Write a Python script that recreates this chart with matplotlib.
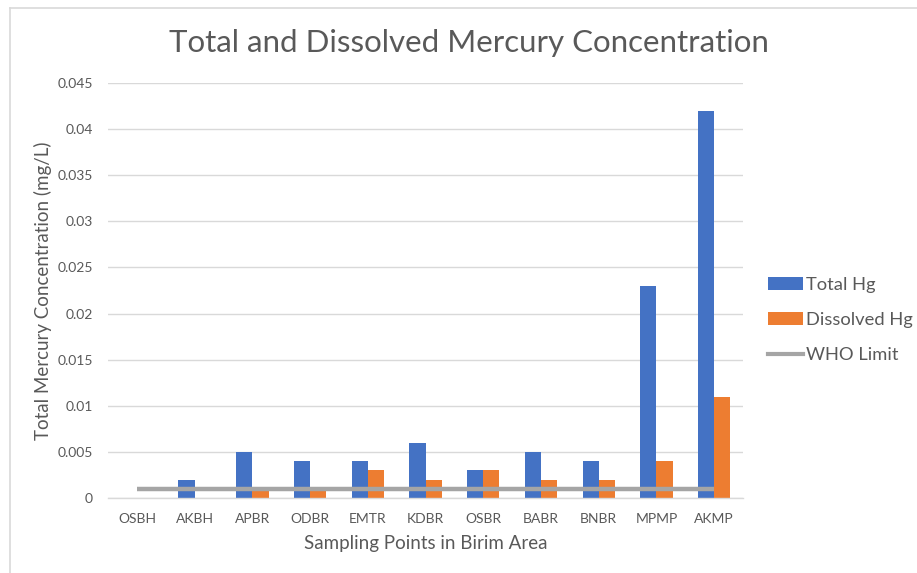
import matplotlib
matplotlib.use("Agg")
import matplotlib.pyplot as plt
from matplotlib.patches import Patch
from matplotlib.lines import Line2D
import numpy as np

plt.rcParams['font.family'] = ['Lato', 'DejaVu Sans']

sites = ["OSBH", "AKBH", "APBR", "ODBR", "EMTR", "KDBR", "OSBR", "BABR", "BNBR", "MPMP", "AKMP"]
total_hg = [0.0, 0.002, 0.005, 0.004, 0.004, 0.006, 0.003, 0.005, 0.004, 0.023, 0.042]
dissolved_hg = [0.0, 0.0, 0.001, 0.001, 0.003, 0.002, 0.003, 0.002, 0.002, 0.004, 0.011]
who_limit = [0.001] * len(sites)
y_ticks = [0, 0.005, 0.01, 0.015, 0.02, 0.025, 0.03, 0.035, 0.04, 0.045]
y_tick_labels = ["0", "0.005", "0.01", "0.015", "0.02", "0.025", "0.03", "0.035", "0.04", "0.045"]

BLUE = "#4472C4"
ORANGE = "#ED7D31"
GRAY = "#A5A5A5"
TEXT = "#595959"
GRID = "#D9D9D9"

fig = plt.figure(figsize=(9.17, 5.73), dpi=100)
ax = fig.add_axes([0.1178, 0.1309, 0.6925, 0.7242])

x = np.arange(len(sites))
w = 0.28
ax.bar(x - w / 2, total_hg, width=w, color=BLUE, zorder=2)
ax.bar(x + w / 2, dissolved_hg, width=w, color=ORANGE, zorder=2)
ax.plot(x, who_limit, color=GRAY, linewidth=3.2, solid_capstyle="butt", zorder=3)

ax.set_xlim(-0.5, len(sites) - 0.5)
ax.set_ylim(0, 0.045)
ax.set_yticks(y_ticks)
ax.set_yticklabels(y_tick_labels)
ax.set_xticks(x)
ax.set_xticklabels(sites)
ax.tick_params(axis="both", length=0, labelsize=10, labelcolor=TEXT)
ax.tick_params(axis="y", pad=11)
ax.tick_params(axis="x", pad=11)
ax.yaxis.grid(True, color=GRID, linewidth=1, zorder=0)
ax.set_axisbelow(True)
for side in ("top", "right", "left"):
    ax.spines[side].set_visible(False)
ax.spines["bottom"].set_color(GRID)
ax.spines["bottom"].set_linewidth(1)

ax.set_xlabel("Sampling Points in Birim Area", fontsize=13.5, color=TEXT, labelpad=7)
ax.set_ylabel("Total Mercury Concentration (mg/L)", fontsize=13.5, color=TEXT, labelpad=4)

fig.text(0.511, 0.925, "Total and Dissolved Mercury Concentration", fontsize=22.5,
         color=TEXT, ha="center", va="center")

handles = [Patch(facecolor=BLUE), Patch(facecolor=ORANGE),
           Line2D([0], [0], color=GRAY, linewidth=3)]
fig.legend(handles, ["Total Hg", "Dissolved Hg", "WHO Limit"],
           loc="center left", bbox_to_anchor=(0.838, 0.4415), frameon=False,
           fontsize=13.2, labelcolor=TEXT, handlelength=1.9, handleheight=0.75,
           handletextpad=0.15, labelspacing=1.05, borderpad=0, borderaxespad=0)

# chart-area border along the top and left
fig.add_artist(Line2D([10 / 917, 1.0], [1 - 8 / 573, 1 - 8 / 573], color=GRID,
                      linewidth=1.2, transform=fig.transFigure))
fig.add_artist(Line2D([10 / 917, 10 / 917], [0.0, 1 - 8 / 573], color=GRID,
                      linewidth=1.2, transform=fig.transFigure))

fig.savefig("out.png", dpi=100)
